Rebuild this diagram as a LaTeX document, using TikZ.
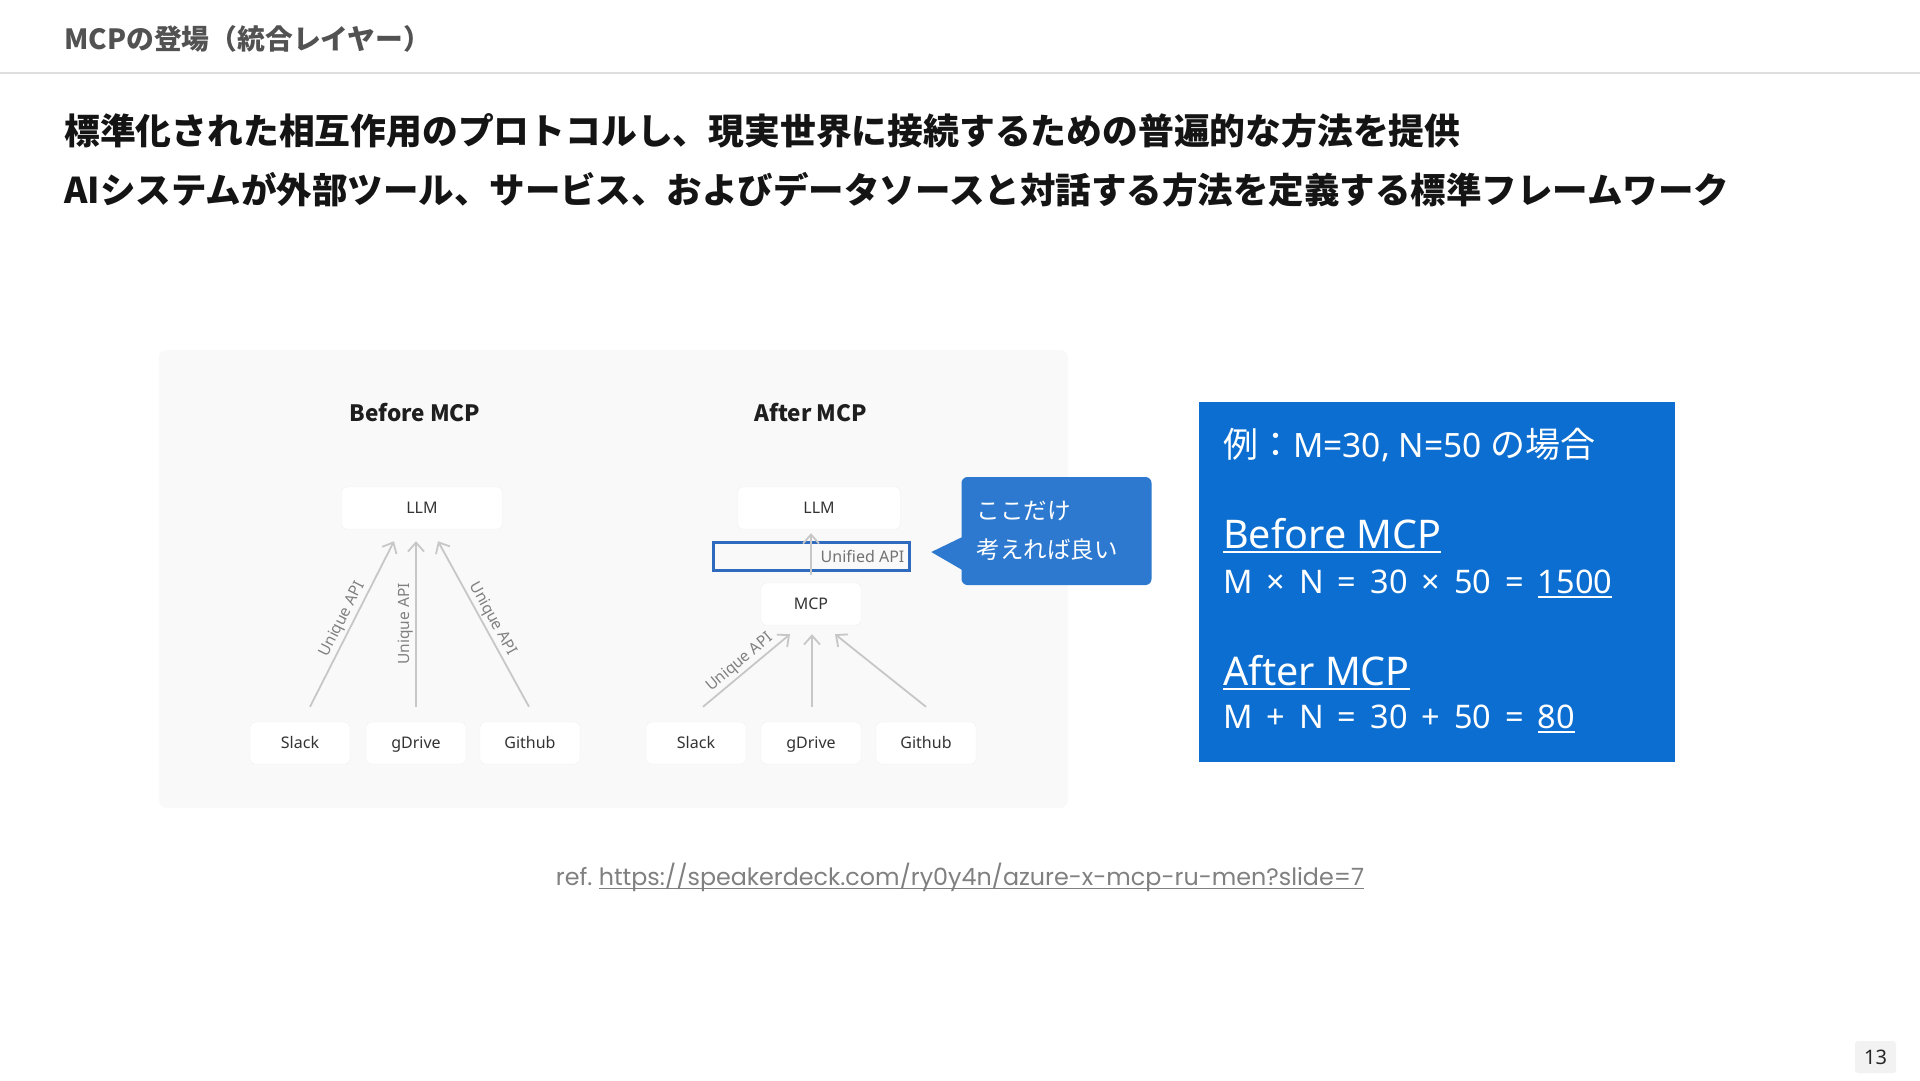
\documentclass[tikz,border=0pt]{standalone}
\usepackage{fontspec}
\setmainfont{Noto Sans}
\newfontfamily\jp{Noto Sans CJK JP}
\newfontfamily\reffont{Poppins}
\usetikzlibrary{positioning,arrows.meta,calc}
\definecolor{mainblue}{RGB}{12,110,208}
\definecolor{callblue}{RGB}{44,121,207}
\definecolor{uniblue}{RGB}{46,106,190}
\definecolor{panelgray}{RGB}{249,249,249}
% underline drawn as a rule: depth, thickness, text
\newcommand{\ulbar}[3]{\setbox0\hbox{#3}\rlap{\rule[#1]{\wd0}{#2}}\box0}

\begin{document}
\begin{tikzpicture}[x=1pt, y=-1pt,
  box/.style={draw=black!6, fill=white, rounded corners=5pt, minimum width=100,
              minimum height=42, text height=14.5, text depth=3.5,
              font=\fontsize{16}{18}\selectfont, text=black!80},
  arw/.style={-{Straight Barb[length=9pt, width=16pt]}, draw=black!22, line width=1.8pt},
  api/.style={font=\fontsize{15.5}{17}\selectfont, text=black!50, inner sep=2pt},
  ttl/.style={font=\jp\bfseries\fontsize{22.5}{24}\selectfont, text=black!88},
  lead/.style={anchor=west, font=\jp\bfseries\fontsize{35.8}{40}\selectfont, text=black!92, inner sep=0},
  sum/.style={anchor=base west, text=white, inner sep=0}
]
\useasboundingbox (0,0) rectangle (1920,1080);
\fill[white] (0,0) rectangle (1920,1080);

% header
\node[anchor=west, font=\jp\bfseries\fontsize{27.8}{30}\selectfont, text=black!68, inner sep=0] (head) at (64,39) {MCPの登場（統合レイヤー）};
\draw[black!13, line width=1.5pt] (0,73) -- (1920,73);
\node[lead] (lead1) at (64,131) {標準化された相互作用のプロトコルし、現実世界に接続するための普遍的な方法を提供};
\node[lead, font=\jp\bfseries\fontsize{35.5}{40}\selectfont] (lead2) at (64,190) {AIシステムが外部ツール、サービス、およびデータソースと対話する方法を定義する標準フレームワーク};

% diagram panel
\node[fill=panelgray, rounded corners=8pt, minimum width=909, minimum height=458] (panel) at (613.5,579) {};
\node[ttl] (tbefore) at (415,413) {Before MCP};
\node[ttl] (tafter) at (811,413) {After MCP};

% before
\node[box, minimum width=161] (llmb) at (422,508) {LLM};
\node[box] (slackb) at (300,743) {Slack};
\node[box] (gdriveb) at (416,743) {gDrive};
\node[box] (githubb) at (530,743) {Github};
\draw[arw] ($(slackb.north)+(10,-15)$) -- node[api, sloped, above] {Unique API} ($(llmb.south)+(-28,12)$);
\draw[arw] ($(gdriveb.north)+(0,-15)$) -- node[api, sloped, above] {Unique API} ($(llmb.south)+(-6,12)$);
\draw[arw] ($(githubb.north)+(-1,-15)$) -- node[api, sloped, above] {Unique API} ($(llmb.south)+(16,12)$);

% after
\node[box, minimum width=163] (llma) at (819,508) {LLM};
\node[box] (mcp) at (811,604) {MCP};
\node[box] (slacka) at (696,743) {Slack};
\node[box] (gdrivea) at (811,743) {gDrive};
\node[box] (githuba) at (926,743) {Github};
\draw[arw] ($(slacka.north)+(7,-15)$) -- node[api, sloped, above] {Unique API} ($(mcp.south)+(-21,9)$);
\draw[arw] ($(gdrivea.north)+(1,-15)$) -- ($(mcp.south)+(1,9)$);
\draw[arw] ($(githuba.north)+(0,-15)$) -- ($(mcp.south)+(24,9)$);
\node[draw=uniblue, line width=2.2pt, minimum width=196, minimum height=28, inner sep=0] (uni) at (811.5,556.5) {};
\draw[arw] ($(mcp.north)+(0,-8)$) -- ($(llma.south)+(-8,4)$);
\node[anchor=east, api, text=black!55, font=\fontsize{16}{18}\selectfont] (unitext) at ($(uni.east)+(-4,0)$) {Unified API};

% callout
\node[fill=callblue, rounded corners=6pt, minimum width=190, minimum height=108, text width=160,
      align=left, text=white, font=\jp\fontsize{23.5}{39}\selectfont] (note) at (1056.5,531) {ここだけ\\考えれば良い};
\fill[callblue] ($(note.west)+(1,6)$) -- ($(note.west)+(-30,21)$) -- ($(note.west)+(1,39)$) -- cycle;

% example box
\node[fill=mainblue, minimum width=476, minimum height=360, inner sep=0] (example) at (1437,582) {};
\node[sum, font=\fontsize{33.5}{36}\selectfont] (exline) at (1223,457) {{\jp\fontsize{35}{36}\selectfont 例：}M=30, N=50 {\jp\fontsize{35}{36}\selectfont の場合}};
\node[sum, font=\fontsize{39.5}{42}\selectfont] (bhead) at (1223,548) {\ulbar{-5pt}{2pt}{Before MCP}};
\node[sum, font=\fontsize{32.5}{36}\selectfont] (bcalc) at (1223,593) {\spaceskip=0.43em\relax M × N = 30 × 50 = \ulbar{-5pt}{2pt}{1500}};
\node[sum, font=\fontsize{39.5}{42}\selectfont] (ahead) at (1223,685) {\ulbar{-5pt}{2pt}{After MCP}};
\node[sum, font=\fontsize{32.5}{36}\selectfont] (acalc) at (1223,728) {\spaceskip=0.43em\relax M + N = 30 + 50 = \ulbar{-5pt}{2pt}{80}};

% reference and page number
\node[anchor=base, font=\reffont\fontsize{23.8}{26}\selectfont, text=black!50, inner sep=0] (ref) at (960,885)
  {ref.\ \ulbar{-4pt}{1.3pt}{https://speakerdeck.com/ry0y4n/azure-x-mcp-ru-men?slide=7}};
\node[fill=black!5, rounded corners=3pt, minimum width=41, minimum height=32,
      font=\fontsize{20}{22}\selectfont, text=black!85] (pageno) at (1875.5,1057) {13};
\end{tikzpicture}
\end{document}
